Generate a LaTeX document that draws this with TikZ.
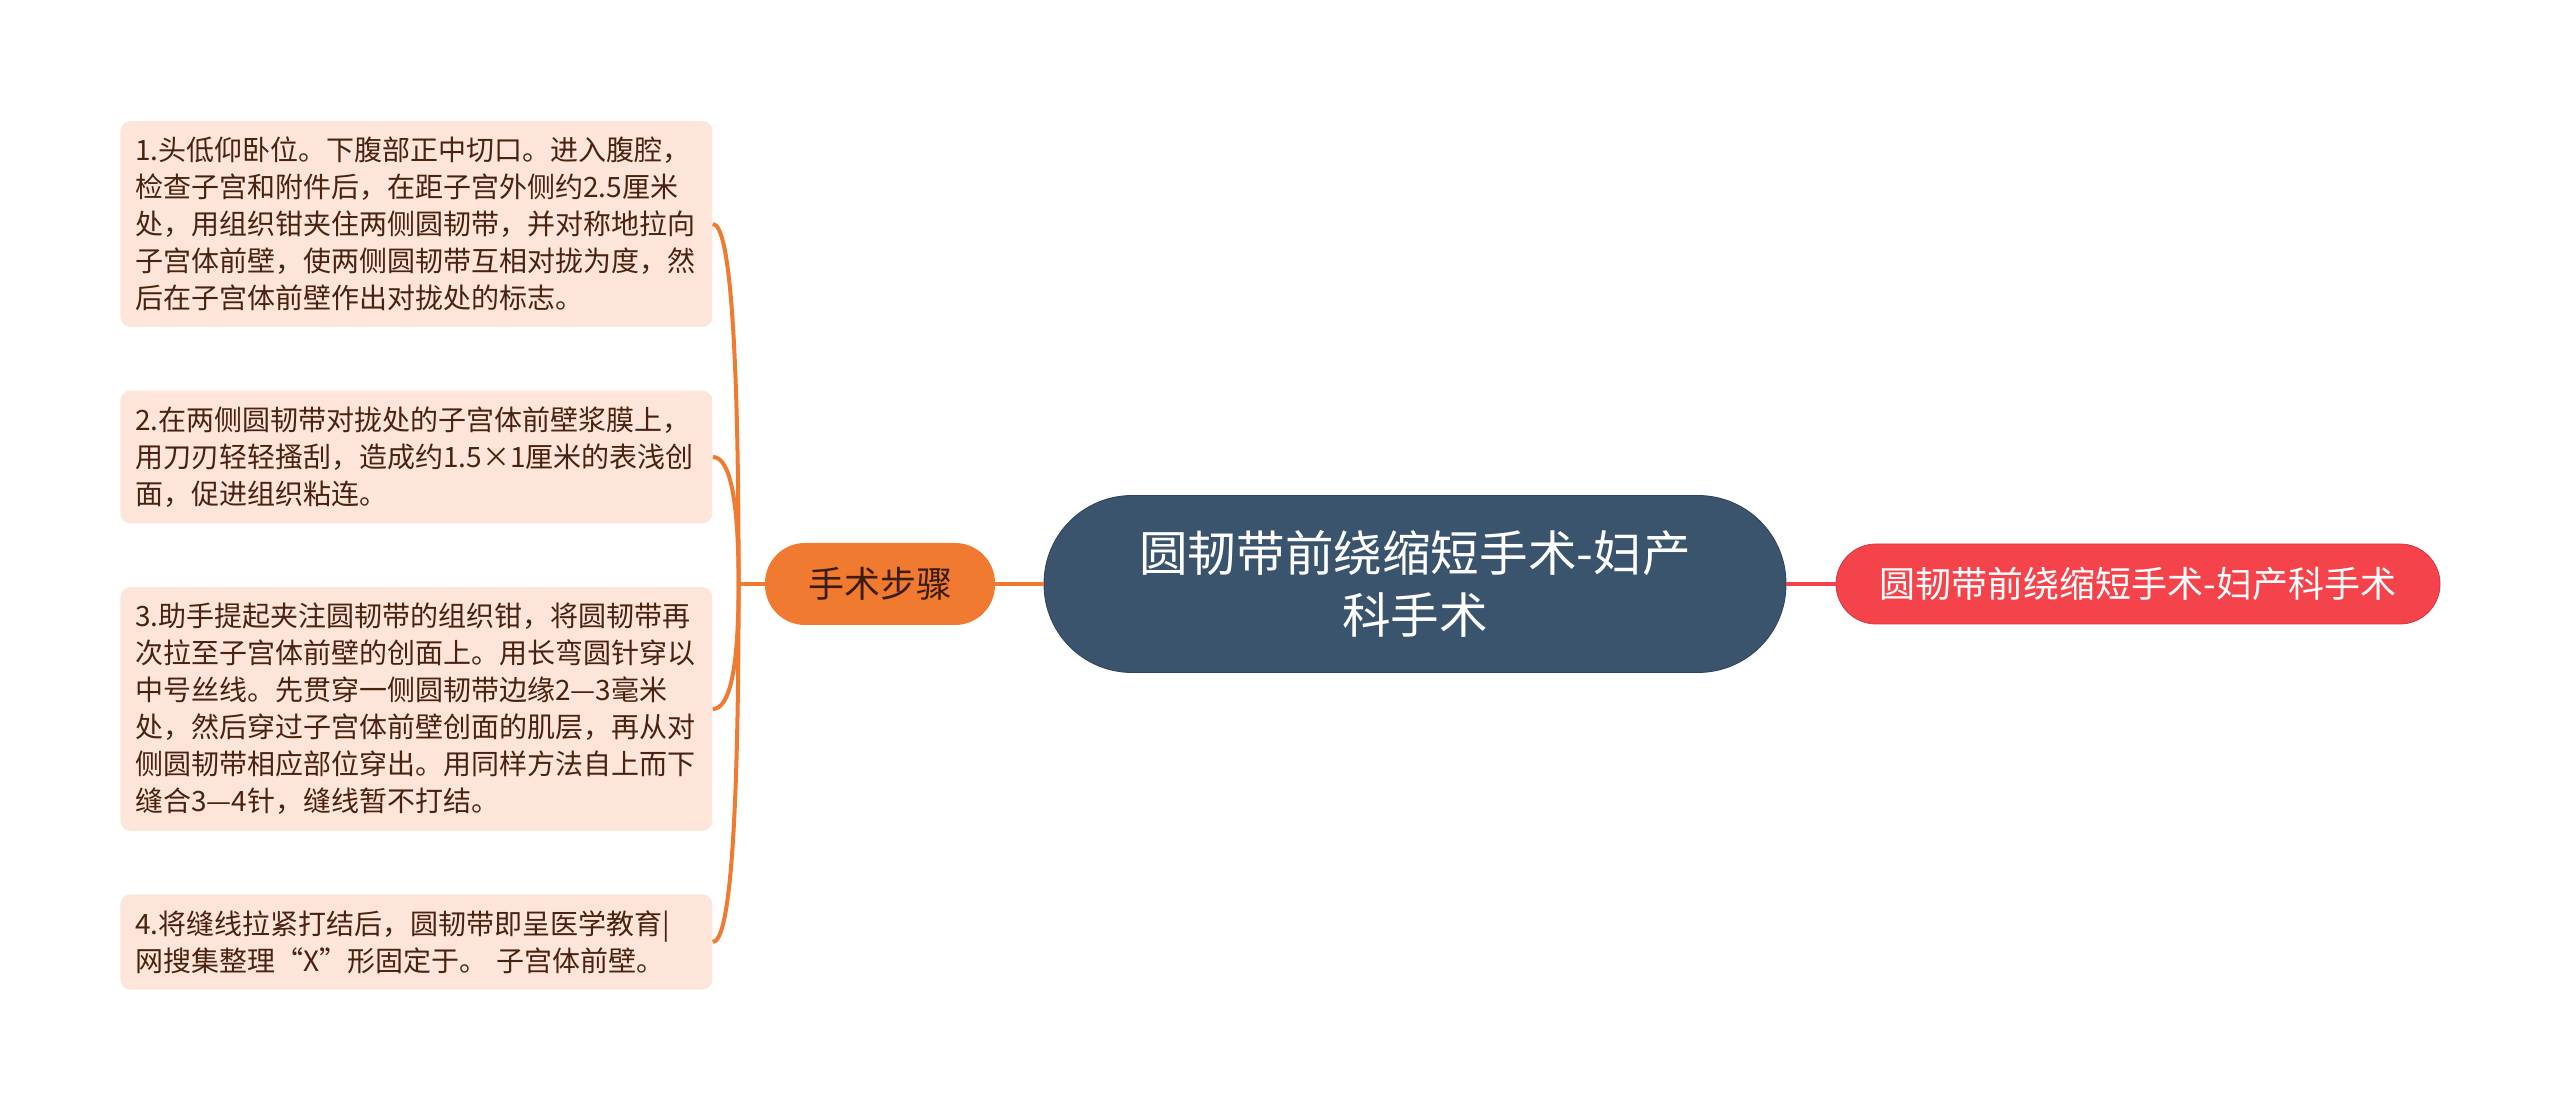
\documentclass[tikz,border=0pt]{standalone}
\usepackage{fontspec}
\setmainfont{Noto Sans CJK SC}
\usetikzlibrary{calc}

\definecolor{peach}{HTML}{FDE5D9}
\definecolor{brownText}{HTML}{4A2310}
\definecolor{orangeMain}{HTML}{F07A30}
\definecolor{navyRoot}{HTML}{3A546E}
\definecolor{redTitle}{HTML}{F5434B}

\begin{document}
\begin{tikzpicture}[x=0.5pt,y=-0.5pt]
	\tikzstyle{step_box} = [rectangle, rounded corners=5pt, fill=peach, text=brownText, font=\fontsize{14}{18.5}\selectfont, text width=281pt, align=left, inner xsep=7.5pt, inner ysep=8pt, anchor=west]
	\tikzstyle{root} = [rectangle, rounded corners=44pt, fill=navyRoot, draw=navyRoot!80!black, text=white, font=\fontsize{24.3}{31}\selectfont, align=center, minimum width=371pt, minimum height=88.5pt]
	\tikzstyle{branch} = [rectangle, rounded corners=20pt, fill=orangeMain, text=brownText!80!black, font=\fontsize{18}{22}\selectfont, minimum width=115pt, minimum height=41pt]
	\tikzstyle{title} = [rectangle, rounded corners=20pt, fill=redTitle, draw=redTitle!85!black, text=white, font=\fontsize{18}{22}\selectfont, minimum width=302pt, minimum height=40pt]
	\tikzstyle{link} = [line width=2pt, draw=orangeMain]

	\useasboundingbox (0,0) rectangle (2560,1111);

%----------centre------------------------------
	\node[root] (r) at (1415,584) {圆韧带前绕缩短手术-妇产\\科手术};
	\node[title] (t) at (2138,584) {圆韧带前绕缩短手术-妇产科手术};
	\node[branch] (steps) at (880,584) {手术步骤};

	\draw[line width=2pt, draw=redTitle] (r.east) -- (t.west);
	\draw[link] (r.west) -- (steps.east);

%----------steps------------------------------
	\node[step_box] (s1) at (120,224) {1.头低仰卧位。下腹部正中切口。进入腹腔，\\
检查子宫和附件后，在距子宫外侧约2.5厘米\\
处，用组织钳夹住两侧圆韧带，并对称地拉向\\
子宫体前壁，使两侧圆韧带互相对拢为度，然\\
后在子宫体前壁作出对拢处的标志。};
	\node[step_box] (s2) at (120,457) {2.在两侧圆韧带对拢处的子宫体前壁浆膜上，\\
用刀刃轻轻搔刮，造成约1.5×1厘米的表浅创\\
面，促进组织粘连。};
	\node[step_box] (s3) at (120,709) {3.助手提起夹注圆韧带的组织钳，将圆韧带再\\
次拉至子宫体前壁的创面上。用长弯圆针穿以\\
中号丝线。先贯穿一侧圆韧带边缘2—3毫米\\
处，然后穿过子宫体前壁创面的肌层，再从对\\
侧圆韧带相应部位穿出。用同样方法自上而下\\
缝合3—4针，缝线暂不打结。};
	\node[step_box] (s4) at (120,942) {4.将缝线拉紧打结后，圆韧带即呈医学教育|\\
网搜集整理“X”形固定于。 子宫体前壁。};

%----------bracket------------------------------
	\coordinate (fork) at ([xshift=-13pt]steps.west);
	\draw[link] (steps.west) -- (fork);
	\foreach \b in {s1,s2,s3,s4}
		\draw[link] (fork) .. controls ($(fork)!0.667!(fork |- \b.east)$) and ($(\b.east)!0.667!(fork |- \b.east)$) .. (\b.east);

\end{tikzpicture}
\end{document}
